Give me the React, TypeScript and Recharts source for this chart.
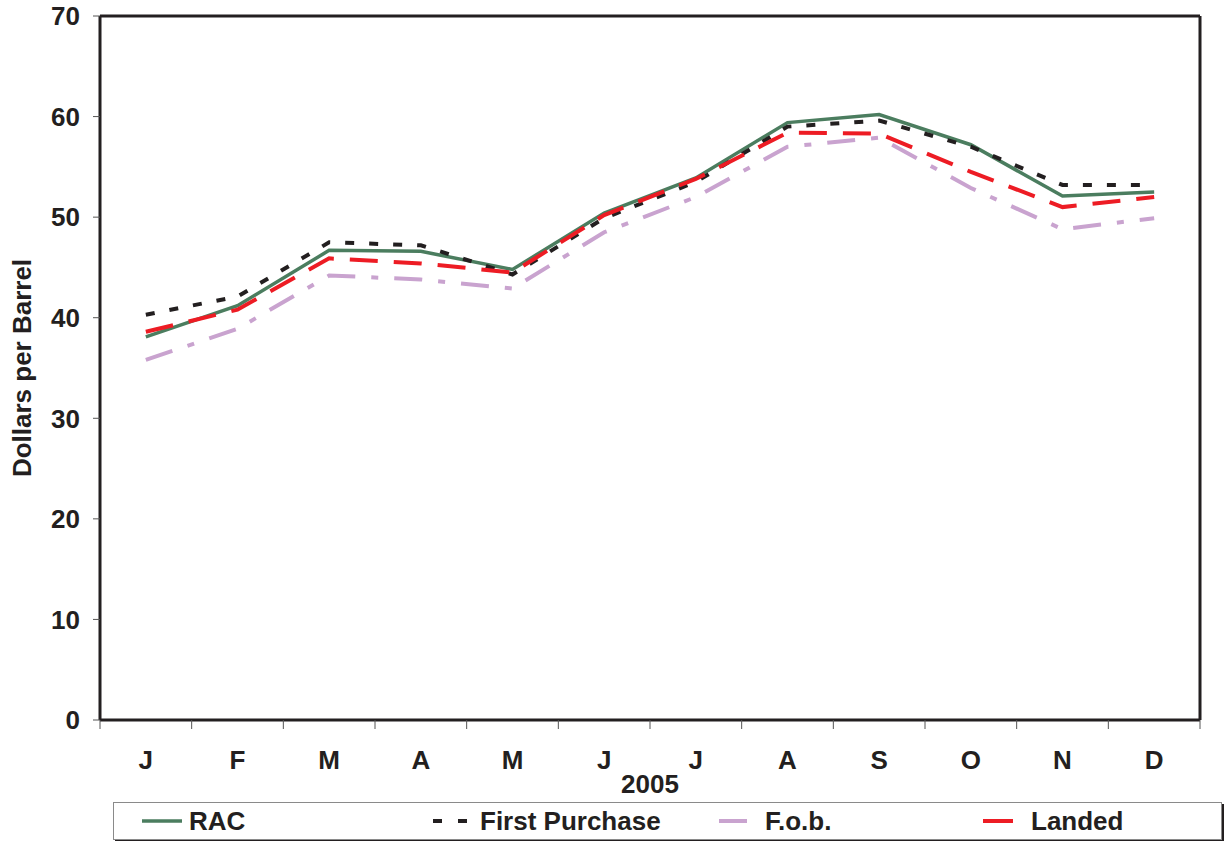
import React from 'react';
import { LineChart, Line, XAxis, YAxis, Legend } from 'recharts';

const months = ['J', 'F', 'M', 'A', 'M', 'J', 'J', 'A', 'S', 'O', 'N', 'D'];
const rac = [38.1, 41.2, 46.7, 46.6, 44.8, 50.4, 53.9, 59.4, 60.2, 57.2, 52.1, 52.5];
const firstPurchase = [40.3, 42.1, 47.5, 47.2, 44.3, 49.9, 53.5, 59.0, 59.6, 57.0, 53.2, 53.2];
const fob = [35.8, 38.9, 44.2, 43.8, 42.9, 48.5, 52.0, 57.0, 57.9, 52.9, 48.8, 49.9];
const landed = [38.6, 40.8, 45.9, 45.4, 44.5, 50.2, 53.8, 58.4, 58.3, 54.5, 51.0, 52.0];
const yTicks = [0, 10, 20, 30, 40, 50, 60, 70];

// x positions: month i sits at the centre of band [i, i+1]; boundaries get tick marks
const data = months.map((m, i) => ({
  x: i + 0.5,
  month: m,
  rac: rac[i],
  firstPurchase: firstPurchase[i],
  fob: fob[i],
  landed: landed[i],
}));
const xTicks: number[] = [];
for (let i = 0; i <= months.length; i++) {
  xTicks.push(i);
  if (i < months.length) xTicks.push(i + 0.5);
}

const FONT = '"Liberation Sans", Arial, Helvetica, sans-serif';
const INK = '#231f20';

const series = [
  { key: 'rac', name: 'RAC', color: '#4b7d5f', dash: undefined as string | undefined, width: 3.5 },
  { key: 'firstPurchase', name: 'First Purchase', color: INK, dash: '9 15', width: 4 },
  { key: 'fob', name: 'F.o.b.', color: '#c9a3cf', dash: '28 16 7 16', width: 4 },
  { key: 'landed', name: 'Landed', color: '#ed1c24', dash: '28 16', width: 4 },
];

const legendItems = [
  { lineLeft: 28, lineWidth: 40, textLeft: 75, dash: undefined as string | undefined },
  { lineLeft: 319, lineWidth: 34, textLeft: 366, dash: '9 16' },
  { lineLeft: 605, lineWidth: 28, textLeft: 651, dash: undefined },
  { lineLeft: 869, lineWidth: 30, textLeft: 917, dash: undefined },
];

const LegendBox = () => {
  return (
    <div
      style={{
        position: 'relative',
        width: 1109,
        height: 38,
        boxSizing: 'border-box',
        border: '1px solid #8a8a8a',
        boxShadow: `2px 2px 0 ${INK}`,
        background: '#fff',
        fontFamily: FONT,
      }}
    >
      {series.map((s, i) => {
        const item = legendItems[i];
        return (
          <React.Fragment key={s.key}>
            <svg
              width={item.lineWidth}
              height={10}
              style={{ position: 'absolute', left: item.lineLeft, top: 13 }}
            >
              <line
                x1={0}
                y1={5}
                x2={item.lineWidth}
                y2={5}
                stroke={s.color}
                strokeWidth={s.width}
                strokeDasharray={item.dash}
              />
            </svg>
            <span
              style={{
                position: 'absolute',
                left: item.textLeft,
                top: 3,
                fontSize: 26,
                fontWeight: 'bold',
                color: INK,
                lineHeight: '30px',
                whiteSpace: 'nowrap',
              }}
            >
              {s.name}
            </span>
          </React.Fragment>
        );
      })}
    </div>
  );
};

const MonthTick = (props: any) => {
  const { x, y, payload } = props;
  const v = payload.value as number;
  if (Number.isInteger(v)) {
    return <line x1={x} y1={y} x2={x} y2={y + 9} stroke="#555" strokeWidth={1} />;
  }
  const label = months[Math.floor(v)];
  return (
    <text
      x={x}
      y={y + 49}
      textAnchor="middle"
      fontFamily={FONT}
      fontSize={26}
      fontWeight="bold"
      fill={INK}
    >
      {label}
    </text>
  );
};

const YLabel = (props: any) => {
  const vb = props.viewBox || { x: 0, y: 0, width: 0, height: 0 };
  const cx = vb.x + 31;
  const cy = vb.y + vb.height / 2;
  return (
    <text
      x={cx}
      y={cy}
      transform={`rotate(-90 ${cx} ${cy})`}
      textAnchor="middle"
      fontFamily={FONT}
      fontSize={26}
      fontWeight="bold"
      fill={INK}
    >
      Dollars per Barrel
    </text>
  );
};

export default function App() {
  return (
    <div style={{ position: 'absolute', left: 0, top: 0, width: 1225, height: 841, background: '#fff', fontFamily: FONT }}>
      <LineChart
        width={1225}
        height={841}
        data={data}
        margin={{ top: 15, right: 24, bottom: 1, left: 0 }}
      >
        <XAxis
          xAxisId="bottom"
          dataKey="x"
          type="number"
          domain={[0, months.length]}
          ticks={xTicks}
          interval={0}
          height={82}
          axisLine={{ stroke: INK, strokeWidth: 3 }}
          tickLine={false}
          tickSize={0}
          tickMargin={0}
          tick={<MonthTick />}
          label={{ value: '2005', position: 'insideBottom', offset: 9, fontFamily: FONT, fontSize: 26, fontWeight: 'bold', fill: INK }}
        />
        <XAxis
          xAxisId="top"
          orientation="top"
          type="number"
          domain={[0, months.length]}
          height={1}
          tick={false}
          tickLine={false}
          axisLine={{ stroke: INK, strokeWidth: 3 }}
        />
        <YAxis
          yAxisId="left"
          domain={[0, 70]}
          ticks={yTicks}
          width={100}
          interval={0}
          axisLine={{ stroke: INK, strokeWidth: 3 }}
          tickLine={{ stroke: '#555', strokeWidth: 1 }}
          tickSize={7}
          tickMargin={13}
          tick={{ fontFamily: FONT, fontSize: 26, fontWeight: 'bold', fill: INK }}
          label={<YLabel />}
        />
        <YAxis
          yAxisId="right"
          orientation="right"
          domain={[0, 70]}
          width={1}
          tick={false}
          tickLine={false}
          axisLine={{ stroke: INK, strokeWidth: 3 }}
        />
        <Legend
          verticalAlign="bottom"
          align="left"
          content={<LegendBox />}
          wrapperStyle={{ left: 113, bottom: 1, width: 1109, height: 38 }}
        />
        {series.map((s) => (
          <Line
            key={s.key}
            xAxisId="bottom"
            yAxisId="left"
            type="linear"
            dataKey={s.key}
            name={s.name}
            stroke={s.color}
            strokeWidth={s.width}
            strokeDasharray={s.dash}
            dot={false}
            activeDot={false}
            isAnimationActive={false}
          />
        ))}
      </LineChart>
    </div>
  );
}
